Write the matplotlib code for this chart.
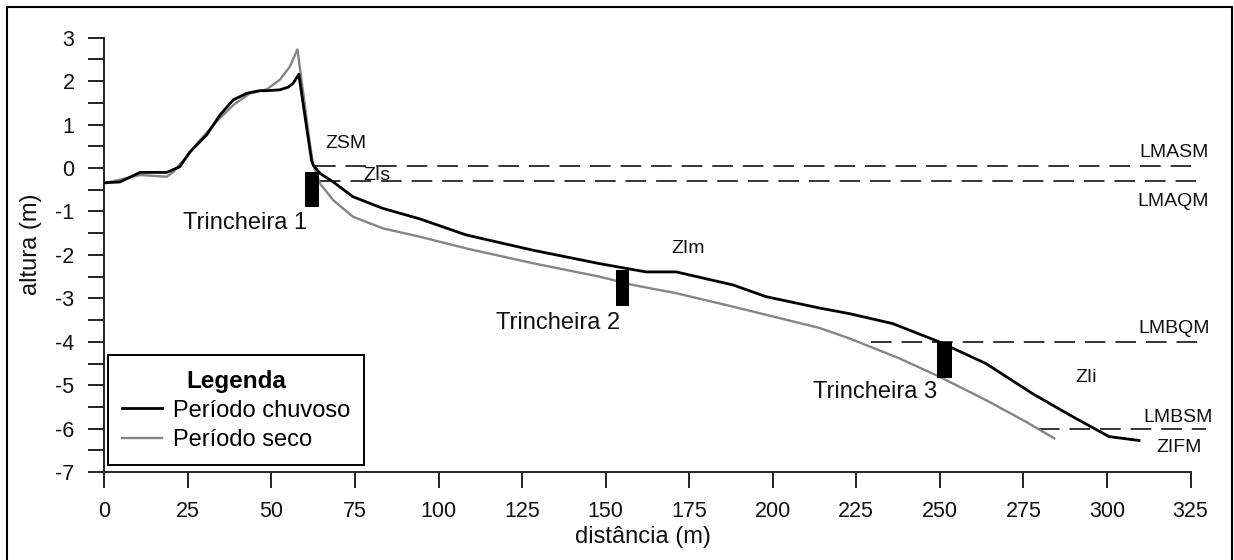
import matplotlib
matplotlib.use("Agg")
import matplotlib.pyplot as plt
from matplotlib.patches import Rectangle
from matplotlib.lines import Line2D

plt.rcParams['font.family'] = ['Liberation Sans', 'DejaVu Sans']
plt.rcParams['axes.unicode_minus'] = False

# ---- data ----
chuvoso_x = [0, 4.7, 10.7, 18.7, 22.6, 25.6, 30.6, 34.6, 38.6, 42.6, 46.5, 48.5, 52.5, 55.0,
             56.5, 58.2, 60.5, 62.0, 62.5, 64.5, 68.5, 74.4, 83.4, 94.4, 108.3, 128.2, 148.2,
             156.2, 162.1, 171.1, 188.1, 198.0, 213.9, 222.9, 235.9, 249.8, 263.8, 277.7,
             289.7, 300.6, 309.6]
chuvoso_y = [-0.34, -0.32, -0.10, -0.10, 0.03, 0.37, 0.76, 1.22, 1.57, 1.72, 1.78, 1.78, 1.80, 1.86,
             1.95, 2.16, 0.95, 0.18, 0.07, -0.12, -0.32, -0.66, -0.93, -1.17, -1.54, -1.89, -2.20,
             -2.31, -2.39, -2.39, -2.69, -2.96, -3.22, -3.35, -3.58, -4.00, -4.50, -5.19,
             -5.72, -6.18, -6.27]

seco_x = [0, 10.7, 18.7, 20.6, 24.6, 28.6, 33.6, 38.6, 43.6, 48.6, 52.5, 55.5, 57.8, 61.5,
          62.5, 64.5, 68.5, 74.4, 83.4, 94.4, 108.3, 128.2, 148.2, 158.1, 171.1, 188.1,
          214.0, 222.9, 237.9, 249.8, 263.8, 275.8, 284.2]
seco_y = [-0.35, -0.16, -0.20, -0.09, 0.26, 0.64, 1.07, 1.45, 1.72, 1.81, 2.03, 2.33, 2.73, 0.57,
          0.07, -0.35, -0.74, -1.12, -1.39, -1.58, -1.85, -2.19, -2.50, -2.69, -2.88, -3.19,
          -3.68, -3.92, -4.38, -4.80, -5.34, -5.84, -6.22]

# reference levels (dashed)
level_names = ['LMASM', 'LMAQM', 'LMBQM', 'LMBSM']
level_y = [0.05, -0.30, -4.00, -6.00]
level_x0 = [63.0, 64.5, 229.5, 279.7]
level_x1 = [327.6, 327.6, 329.6, 329.6]
level_label_x = [320.1, 319.7, 320.1, 321.3]
level_label_y = [0.25, -0.87, -3.80, -5.84]

# zone labels
zone_names = ['ZSM', 'ZIs', 'ZIm', 'ZIi', 'ZIFM']
zone_x = [72.2, 81.5, 174.6, 293.8, 321.7]
zone_y = [0.45, -0.28, -1.95, -4.92, -6.53]

# trenches
trench_names = ['Trincheira 1', 'Trincheira 2', 'Trincheira 3']
trench_x0 = [60.0, 153.0, 249.1]
trench_x1 = [64.2, 156.9, 253.5]
trench_top = [-0.085, -2.35, -4.01]
trench_bottom = [-0.90, -3.17, -4.84]
trench_label_x = [42.2, 135.7, 230.6]
trench_label_y = [-1.41, -3.70, -5.29]

x_ticks = list(range(0, 326, 25))
y_ticks = list(range(-7, 4))

# ---- figure ----
fig = plt.figure(figsize=(12.34, 5.6), dpi=100)
ax = fig.add_axes([104.3 / 1234, 1 - 472.2 / 560, (1190.5 - 104.3) / 1234, (472.2 - 37.7) / 560])

ax.plot(seco_x, seco_y, color='#858585', lw=1.7, solid_joinstyle='round', zorder=3)
ax.plot(chuvoso_x, chuvoso_y, color='black', lw=2.0, solid_joinstyle='round', zorder=4)

for y, x0, x1 in zip(level_y, level_x0, level_x1):
    ax.plot([x0, x1], [y, y], color='black', lw=1.1, linestyle=(0, (13.5, 6.5)),
            clip_on=False, zorder=2)
for name, x, y in zip(level_names, level_label_x, level_label_y):
    ax.text(x, y, name, fontsize=14, ha='center', va='baseline', color='#111111', clip_on=False)

for name, x, y in zip(zone_names, zone_x, zone_y):
    ax.text(x, y, name, fontsize=14, ha='center', va='baseline', color='#111111', clip_on=False)

for x0, x1, t, b in zip(trench_x0, trench_x1, trench_top, trench_bottom):
    ax.bar((x0 + x1) / 2, t - b, bottom=b, width=x1 - x0, color='black', zorder=5)
for name, x, y in zip(trench_names, trench_label_x, trench_label_y):
    ax.text(x, y, name, fontsize=17, ha='center', va='baseline', color='#111111')

ax.set_xlim(0, 325)
ax.set_ylim(-7, 3)
ax.set_xticks(x_ticks)
ax.set_yticks(y_ticks)
ax.set_yticks([v + 0.5 for v in y_ticks[:-1]], minor=True)
ax.tick_params(axis='both', which='both', direction='out', length=11.5, width=1.4,
               labelsize=15.5, color='#222222', labelcolor='#111111')
ax.tick_params(axis='y', which='both', pad=10)
ax.tick_params(axis='x', which='both', pad=9)

for s in ['top', 'right']:
    ax.spines[s].set_visible(False)
for s in ['left', 'bottom']:
    ax.spines[s].set_linewidth(1.4)
    ax.spines[s].set_color('#222222')

ax.set_xlabel('distância (m)', fontsize=17, color='#111111')
ax.xaxis.set_label_coords(0.496, -0.123)
ax.set_ylabel('altura (m)', fontsize=17, color='#111111')
ax.yaxis.set_label_coords(-0.0574, 0.525)

handles = [Line2D([], [], color='black', lw=2.0), Line2D([], [], color='#858585', lw=1.7)]
leg = ax.legend(handles, ['Período chuvoso', 'Período seco'], title='Legenda',
                loc='lower left', bbox_to_anchor=(0.0034, 0.0166), borderaxespad=0,
                fontsize=17, title_fontproperties={'weight': 'bold', 'size': 17.5},
                handlelength=1.7, handletextpad=0.45, borderpad=0.6, labelspacing=0.3,
                fancybox=False, framealpha=1, edgecolor='black')
leg.get_frame().set_linewidth(1.4)
leg.set_zorder(10)

# outer border of the picture
fig.patches.append(Rectangle((7 / 1234, -0.02), (1232 - 7) / 1234, 1.02 - 7 / 560,
                             transform=fig.transFigure, fill=False, edgecolor='black',
                             lw=1.5))

fig.savefig('out.png', dpi=100)
